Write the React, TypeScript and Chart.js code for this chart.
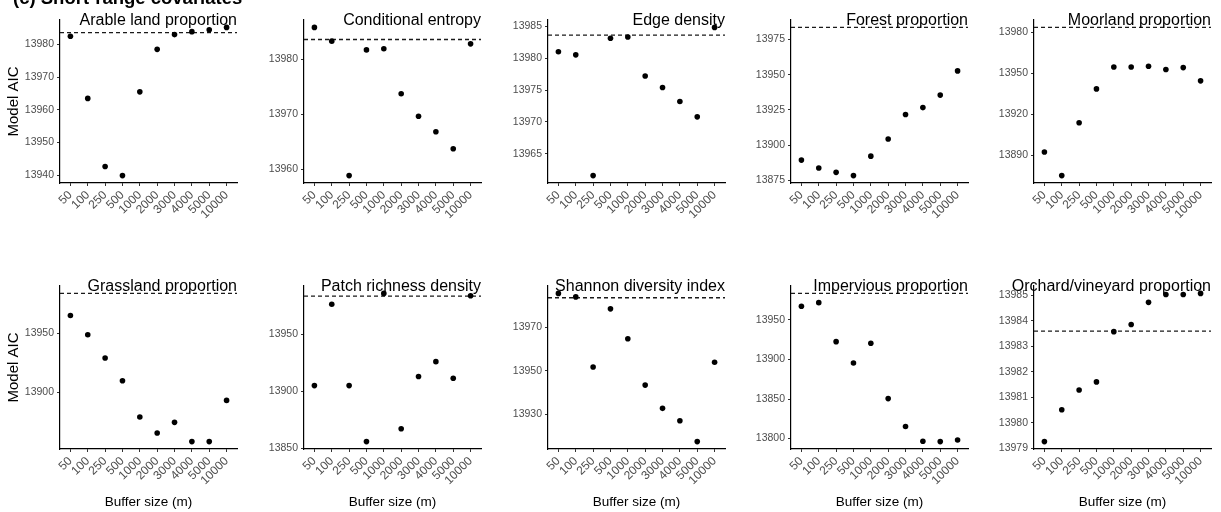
import React, { useEffect, useRef } from "react";
import { Chart, registerables } from "chart.js";

Chart.register(...registerables);

// ---------- data ----------
const bufferSizes = ["50", "100", "250", "500", "1000", "2000", "3000", "4000", "5000", "10000"];
const nullModelAIC = 13983.6;

const arableAIC = [13982.5, 13963.5, 13942.7, 13939.9, 13965.5, 13978.5, 13983.0, 13983.9, 13984.5, 13985.2];
const entropyAIC = [13985.8, 13983.3, 13958.8, 13981.7, 13981.9, 13973.7, 13969.6, 13966.8, 13963.7, 13982.8];
const edgeAIC = [13981.0, 13980.5, 13961.6, 13983.1, 13983.3, 13977.2, 13975.4, 13973.2, 13970.8, 13984.8];
const forestAIC = [13889.3, 13883.7, 13880.6, 13878.3, 13892.1, 13904.3, 13921.7, 13926.6, 13935.5, 13952.7];
const moorlandAIC = [13892.2, 13874.9, 13913.7, 13938.5, 13954.6, 13954.6, 13955.1, 13952.7, 13954.1, 13944.4];
const grasslandAIC = [13964.9, 13948.6, 13928.9, 13909.6, 13878.9, 13865.4, 13874.4, 13858.1, 13858.1, 13893.0];
const patchAIC = [13905.2, 13976.5, 13905.2, 13856.1, 13986.0, 13867.4, 13913.1, 13926.2, 13911.6, 13983.9];
const shannonAIC = [13985.6, 13984.0, 13951.7, 13978.5, 13964.7, 13943.4, 13932.7, 13927.0, 13917.4, 13953.9];
const imperviousAIC = [13967.3, 13971.9, 13922.6, 13895.6, 13920.5, 13850.6, 13815.2, 13796.6, 13796.2, 13798.3];
const orchardAIC = [13979.27, 13980.52, 13981.29, 13981.61, 13983.58, 13983.86, 13984.73, 13985.04, 13985.04, 13985.08];

const arableTicks = [13940, 13950, 13960, 13970, 13980];
const entropyTicks = [13960, 13970, 13980];
const edgeTicks = [13965, 13970, 13975, 13980, 13985];
const forestTicks = [13875, 13900, 13925, 13950, 13975];
const moorlandTicks = [13890, 13920, 13950, 13980];
const grasslandTicks = [13900, 13950];
const patchTicks = [13850, 13900, 13950];
const shannonTicks = [13930, 13950, 13970];
const imperviousTicks = [13800, 13850, 13900, 13950];
const orchardTicks = [13979, 13980, 13981, 13982, 13983, 13984, 13985];

const panelTitles = [
  "Arable land proportion",
  "Conditional entropy",
  "Edge density",
  "Forest proportion",
  "Moorland proportion",
  "Grassland proportion",
  "Patch richness density",
  "Shannon diversity index",
  "Impervious proportion",
  "Orchard/vineyard proportion",
];
const panelValues = [arableAIC, entropyAIC, edgeAIC, forestAIC, moorlandAIC, grasslandAIC, patchAIC, shannonAIC, imperviousAIC, orchardAIC];
const panelTicks = [arableTicks, entropyTicks, edgeTicks, forestTicks, moorlandTicks, grasslandTicks, patchTicks, shannonTicks, imperviousTicks, orchardTicks];

const figureTitle = "(c) Short-range covariates";
const yAxisTitle = "Model AIC";
const xAxisTitle = "Buffer size (m)";

// ---------- layout ----------
const FONT = '"Liberation Sans", Arial, Helvetica, sans-serif';
const COL_LEFT = [60, 304, 548, 791, 1034];
const ROW_TOP = [20, 286];
const PLOT_W = 177;
const PLOT_H = 163;
const PAD_L = 60;
const PAD_T = 20;
const PAD_R = 8;
const PAD_B = 63;

const panelTitlePlugin = {
  id: "panelTitle",
  afterDraw(chart: any, _args: any, opts: any) {
    const { ctx, chartArea } = chart;
    ctx.save();
    ctx.fillStyle = "#000";
    ctx.font = `16px ${FONT}`;
    ctx.textAlign = "right";
    ctx.textBaseline = "alphabetic";
    ctx.fillText(opts.text, chartArea.right, chartArea.top + 5);
    if (opts.header) {
      ctx.font = `bold 18.5px ${FONT}`;
      ctx.textAlign = "left";
      ctx.fillText(opts.header, 13, 4);
    }
    ctx.restore();
  },
};

function Panel({ index }: { index: number }) {
  const ref = useRef<HTMLCanvasElement | null>(null);
  const row = Math.floor(index / 5);
  const col = index % 5;
  const width = PAD_L + PLOT_W + PAD_R;
  const height = PAD_T + PLOT_H + PAD_B;
  const left = COL_LEFT[col] - PAD_L;
  const top = ROW_TOP[row] - PAD_T;

  useEffect(() => {
    if (!ref.current) return;
    const values = panelValues[index];
    const ticks = panelTicks[index];
    const lo = Math.min(...values, nullModelAIC);
    const hi = Math.max(...values, nullModelAIC);
    const pad = (hi - lo) * 0.05;

    const chart = new Chart(ref.current, {
      type: "scatter",
      data: {
        datasets: [
          {
            data: values.map((v, i) => ({ x: i, y: v })),
            pointRadius: 2.8,
            pointBackgroundColor: "#000",
            pointBorderColor: "#000",
            pointBorderWidth: 0,
            showLine: false,
          },
          {
            data: [
              { x: -0.6, y: nullModelAIC },
              { x: bufferSizes.length - 0.4, y: nullModelAIC },
            ],
            showLine: true,
            borderColor: "#1a1a1a",
            borderWidth: 1.3,
            borderDash: [4, 3],
            pointRadius: 0,
          },
        ],
      } as any,
      options: {
        responsive: false,
        animation: false,
        events: [],
        layout: { padding: { left: 0, top: PAD_T, right: PAD_R, bottom: 0 } },
        plugins: {
          legend: { display: false },
          tooltip: { enabled: false },
          panelTitle: { text: panelTitles[index], header: index === 0 ? figureTitle : null },
        } as any,
        scales: {
          x: {
            type: "linear",
            min: -0.6,
            max: bufferSizes.length - 0.4,
            bounds: "data",
            afterBuildTicks: (s: any) => {
              s.ticks = bufferSizes.map((_, i) => ({ value: i }));
            },
            afterFit: (s: any) => {
              s.height = PAD_B;
            },
            ticks: {
              autoSkip: false,
              minRotation: 45,
              maxRotation: 45,
              padding: 2,
              color: "#4d4d4d",
              font: { size: 12, family: FONT },
              callback: (_v: any, i: number) => bufferSizes[i],
            },
            grid: { display: true, drawOnChartArea: false, drawTicks: true, tickLength: 3, color: "#333", lineWidth: 1 },
            border: { display: true, color: "#000", width: 1.2 },
            title: {
              display: row === 1,
              text: xAxisTitle,
              color: "#000",
              font: { size: 13.5, family: FONT },
              padding: { top: 0, bottom: 2 },
            },
          },
          y: {
            type: "linear",
            min: lo - pad,
            max: hi + pad,
            bounds: "data",
            afterBuildTicks: (s: any) => {
              s.ticks = ticks.map((v) => ({ value: v }));
            },
            afterFit: (s: any) => {
              s.width = PAD_L;
            },
            ticks: {
              padding: 3,
              color: "#4d4d4d",
              font: { size: 10.5, family: FONT },
              callback: (v: any) => String(v),
            },
            grid: { display: true, drawOnChartArea: false, drawTicks: true, tickLength: 3, color: "#333", lineWidth: 1 },
            border: { display: true, color: "#000", width: 1.2 },
            title: {
              display: col === 0,
              text: yAxisTitle,
              color: "#000",
              font: { size: 15, family: FONT },
              padding: { top: 4.5, bottom: 0 },
            },
          },
        },
      } as any,
      plugins: [panelTitlePlugin],
    });
    return () => chart.destroy();
  }, [index]);

  return (
    <canvas
      ref={ref}
      width={width}
      height={height}
      style={{ position: "absolute", left, top, width, height }}
    />
  );
}

export default function App() {
  useEffect(() => {
    document.body.style.margin = "0";
  }, []);
  return (
    <div
      style={{
        position: "absolute",
        left: 0,
        top: 0,
        width: 1221,
        height: 512,
        overflow: "hidden",
        background: "#fff",
      }}
    >
      {panelTitles.map((_, i) => (
        <Panel key={i} index={i} />
      ))}
    </div>
  );
}
